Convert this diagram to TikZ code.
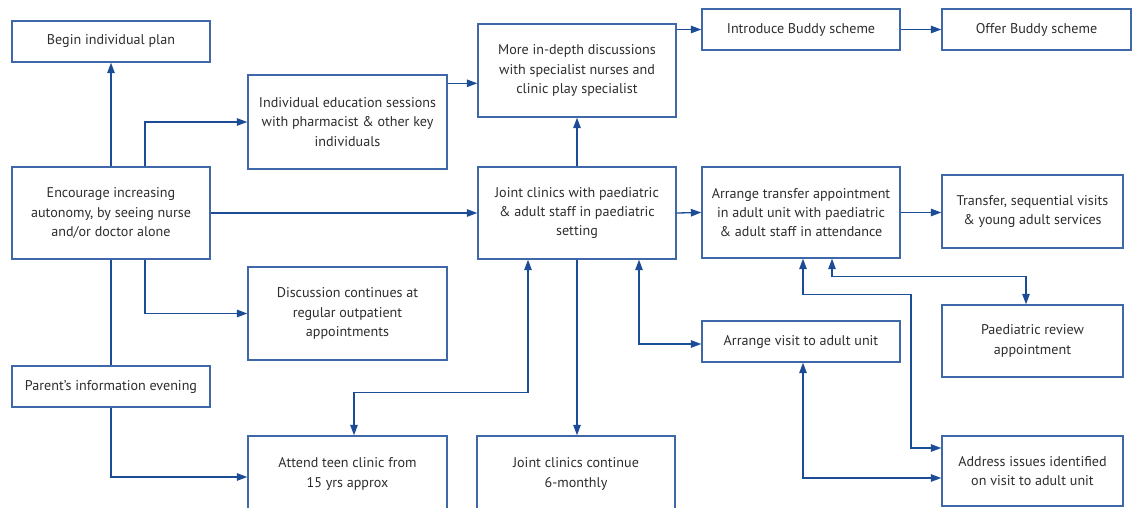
\documentclass[tikz,border=0pt]{standalone}
\usepackage{fontspec}
\setmainfont{PT Sans}
\usetikzlibrary{arrows.meta,calc}
\definecolor{lineblue}{RGB}{28,76,150}
\definecolor{boxblue}{RGB}{62,104,168}
\definecolor{txt}{RGB}{45,45,45}
\tikzset{
  box/.style={draw=boxblue, line width=1.4pt, align=center, inner sep=0pt, text=txt,
    font=\fontsize{14.1}{19.4}\selectfont},
  ln/.style={draw=lineblue, line width=1.3pt},
  arr/.style={ln, -{Triangle[length=10.5pt,width=7.5pt]}},
  darr/.style={ln, {Triangle[length=10.5pt,width=7.5pt]}-{Triangle[length=10.5pt,width=7.5pt]}},
}
\begin{document}
\begin{tikzpicture}[x=1pt,y=-1pt]
\useasboundingbox (0,0) rectangle (1132,508);
% column 1
\node[box, minimum width=198pt, minimum height=41pt] (plan) at (111,41.5) {Begin individual plan};
\node[box, minimum width=198pt, minimum height=92pt] (enc) at (111,213) {Encourage increasing\\autonomy, by seeing nurse\\and/or doctor alone};
\node[box, minimum width=198pt, minimum height=41pt] (parent) at (111,386.5) {Parent’s information evening};
% column 2
\node[box, minimum width=199pt, minimum height=94pt] (ed) at (347.5,122) {Individual education sessions\\with pharmacist \& other key\\individuals};
\node[box, minimum width=199pt, minimum height=93pt] (disc) at (347.5,313.5) {Discussion continues at\\regular outpatient\\appointments};
\node[box, minimum width=199pt, minimum height=76pt] (teen) at (347.5,474) {Attend teen clinic from\\15 yrs approx};
% column 3
\node[box, minimum width=198pt, minimum height=93pt] (indepth) at (577,70.5) {More in-depth discussions\\with specialist nurses and\\clinic play specialist};
\node[box, minimum width=198pt, minimum height=92pt] (joint) at (577,213) {Joint clinics with paediatric\\\& adult staff in paediatric\\setting};
\node[box, minimum width=198pt, minimum height=76pt] (cont) at (576,474) {Joint clinics continue\\6-monthly};
% column 4
\node[box, minimum width=198pt, minimum height=41pt] (intro) at (801,29.5) {Introduce Buddy scheme};
\node[box, minimum width=198pt, minimum height=91pt] (arrtr) at (801,212.5) {Arrange transfer appointment\\in adult unit with paediatric\\\& adult staff in attendance};
\node[box, minimum width=198pt, minimum height=41pt] (visit) at (801,341.5) {Arrange visit to adult unit};
% column 5
\node[box, minimum width=189pt, minimum height=41pt] (offer) at (1036.5,29.5) {Offer Buddy scheme};
\node[box, minimum width=181pt, minimum height=73pt] (transfer) at (1032.5,211.5) {Transfer, sequential visits\\\& young adult services};
\node[box, minimum width=181pt, minimum height=72pt] (review) at (1032.5,341) {Paediatric review\\appointment};
\node[box, minimum width=181pt, minimum height=70pt] (address) at (1032.5,471) {Address issues identified\\on visit to adult unit};

% connectors
\draw[arr] (enc.north) -- (plan.south);
\draw[arr] ([xshift=34pt]enc.north) |- (ed.west);
\draw[arr] (enc.east) -- (joint.west);
\path ([yshift=-9pt]ed.north east) coordinate (edo);
\draw[arr] (edo) -- (edo -| indepth.west);
\draw[ln] (enc.south) -- (parent.north);
\draw[arr] ([xshift=34pt]enc.south) |- (disc.west);
\draw[arr] (parent.south) |- ([yshift=-3pt]teen.west);
\draw[arr] (indepth.east |- intro.west) -- (intro.west);
\draw[arr] (intro.east) -- (offer.west);
\draw[arr] (joint.north) -- (indepth.south);
\draw[arr] (joint.east) -- (arrtr.west);
\draw[arr] (arrtr.east) -- (arrtr.east -| transfer.west);
\draw[darr] ([xshift=6.5pt]teen.north) -- ++(0,-43) -| ([xshift=-49pt]joint.south);
\draw[arr] (joint.south) -- (joint.south |- cont.north);
\draw[darr] ([xshift=62pt]joint.south) |- ([yshift=-2.5pt]visit.west);
\draw[darr] ([xshift=2pt]arrtr.south) -- ++(0,36) -- ++(108,0) |- ([yshift=23pt]address.west);
\draw[darr] ([xshift=31pt]arrtr.south) -- ++(0,18) -| ([xshift=-6.5pt]review.north);
\draw[darr] ([xshift=2pt]visit.south) |- ([yshift=-7pt]address.west);
\end{tikzpicture}
\end{document}
